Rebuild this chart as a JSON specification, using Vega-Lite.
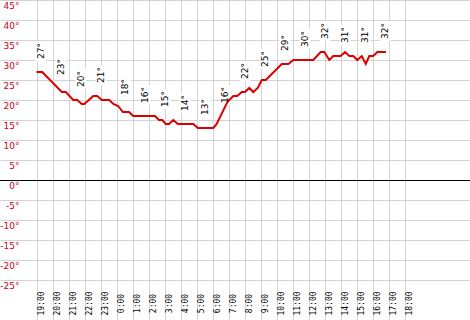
{
  "$schema": "https://vega.github.io/schema/vega-lite/v6.json",
  "width": 470,
  "height": 320,
  "autosize": {"type": "none"},
  "padding": 0,
  "background": "white",
  "config": {"view": {"stroke": null}},
  "datasets": {
    "zero": [{"t": 0}],
    "temps": [
      {"h": 0, "t": 27}, {"h": 0.36, "t": 27}, {"h": 1.58, "t": 22}, {"h": 1.83, "t": 22},
      {"h": 2.3, "t": 20}, {"h": 2.55, "t": 20}, {"h": 2.83, "t": 19}, {"h": 2.99, "t": 19},
      {"h": 3.55, "t": 21}, {"h": 3.8, "t": 21}, {"h": 4.08, "t": 20}, {"h": 4.55, "t": 20},
      {"h": 4.8, "t": 19}, {"h": 5.1, "t": 18.5}, {"h": 5.4, "t": 17}, {"h": 5.78, "t": 17},
      {"h": 6.05, "t": 16}, {"h": 7.4, "t": 16}, {"h": 7.66, "t": 15}, {"h": 7.86, "t": 15},
      {"h": 8.08, "t": 14}, {"h": 8.28, "t": 14}, {"h": 8.55, "t": 15}, {"h": 8.83, "t": 14},
      {"h": 9.8, "t": 14}, {"h": 10.08, "t": 13}, {"h": 11.05, "t": 13}, {"h": 11.26, "t": 14},
      {"h": 11.93, "t": 19.5}, {"h": 12.3, "t": 21}, {"h": 12.55, "t": 21}, {"h": 12.83, "t": 22},
      {"h": 13.03, "t": 22}, {"h": 13.3, "t": 23}, {"h": 13.55, "t": 22}, {"h": 13.83, "t": 23},
      {"h": 14.08, "t": 25}, {"h": 14.33, "t": 25}, {"h": 15.33, "t": 29}, {"h": 15.74, "t": 29},
      {"h": 16.05, "t": 30}, {"h": 17.3, "t": 30}, {"h": 17.76, "t": 32}, {"h": 17.99, "t": 32},
      {"h": 18.3, "t": 30}, {"h": 18.55, "t": 31}, {"h": 19.01, "t": 31}, {"h": 19.28, "t": 32},
      {"h": 19.55, "t": 31}, {"h": 19.8, "t": 31}, {"h": 20.05, "t": 30}, {"h": 20.33, "t": 31},
      {"h": 20.58, "t": 29}, {"h": 20.8, "t": 31}, {"h": 21.05, "t": 31}, {"h": 21.3, "t": 32},
      {"h": 21.84, "t": 32}
    ],
    "labels": [
      {"h": 0.28, "t": 27, "label": "27°"}, {"h": 1.53, "t": 23, "label": "23°"},
      {"h": 2.78, "t": 20, "label": "20°"}, {"h": 4.03, "t": 21, "label": "21°"},
      {"h": 5.53, "t": 18, "label": "18°"}, {"h": 6.78, "t": 16, "label": "16°"},
      {"h": 8.03, "t": 15, "label": "15°"}, {"h": 9.28, "t": 14, "label": "14°"},
      {"h": 10.53, "t": 13, "label": "13°"}, {"h": 11.78, "t": 16, "label": "16°"},
      {"h": 13.03, "t": 22, "label": "22°"}, {"h": 14.28, "t": 25, "label": "25°"},
      {"h": 15.53, "t": 29, "label": "29°"}, {"h": 16.78, "t": 30, "label": "30°"},
      {"h": 18.03, "t": 32, "label": "32°"}, {"h": 19.28, "t": 31, "label": "31°"},
      {"h": 20.53, "t": 31, "label": "31°"}, {"h": 21.78, "t": 32, "label": "32°"}
    ]
  },
  "encoding": {
    "x": {
      "field": "h", "type": "quantitative",
      "scale": {"domain": [-2.28125, 27.09375], "nice": false, "zero": false},
      "axis": {
        "values": [0,1,2,3,4,5,6,7,8,9,10,11,12,13,14,15,16,17,18,19,20,21,22,23],
        "grid": true, "gridColor": "#d3d3d3", "gridWidth": 1,
        "domain": false, "ticks": false, "tickSize": 0, "labelPadding": 0,
        "offset": -17, "labelAngle": 270, "labelAlign": "center", "labelBaseline": "middle",
        "labelOffset": 5, "labelOverlap": false, "labelBound": false, "labelFlush": false,
        "labelExpr": "((19 + datum.value) % 24) + ':00'",
        "labelFont": "DejaVu Sans Mono", "labelFontSize": 8, "labelColor": "#000000",
        "title": null
      }
    },
    "y": {
      "field": "t", "type": "quantitative",
      "scale": {"domain": [-35, 45], "nice": false, "zero": false},
      "axis": {
        "values": [-25,-20,-15,-10,-5,0,5,10,15,20,25,30,35,40,45],
        "grid": true, "gridColor": "#d3d3d3", "gridWidth": 1,
        "domain": false, "ticks": false, "tickSize": 0, "labelPadding": 0,
        "offset": -19, "labelAlign": "right", "labelBaseline": "middle",
        "labelOffset": 5, "labelOverlap": false, "labelBound": false, "labelFlush": false,
        "labelExpr": "datum.value + '°'",
        "labelFont": "DejaVu Sans", "labelFontSize": 9, "labelColor": "#cc0022",
        "title": null
      }
    }
  },
  "layer": [
    {
      "data": {"name": "zero"},
      "mark": {"type": "rule", "color": "#000000", "strokeWidth": 1, "yOffset": 0.5},
      "encoding": {"x": null}
    },
    {
      "data": {"name": "labels"},
      "mark": {"type": "point", "shape": "M-0.55,-1H0.55V1H-0.55Z", "size": 400, "filled": true, "color": "#ffffff", "opacity": 1, "strokeWidth": 0, "yOffset": -21}
    },
    {
      "data": {"name": "temps"},
      "mark": {"type": "line", "color": "#dd0000", "strokeWidth": 2}
    },
    {
      "data": {"name": "labels"},
      "mark": {"type": "text", "angle": 270, "align": "center", "baseline": "middle", "font": "DejaVu Sans", "fontSize": 9, "color": "#000000", "yOffset": -21},
      "encoding": {"text": {"field": "label", "type": "nominal"}}
    }
  ]
}
